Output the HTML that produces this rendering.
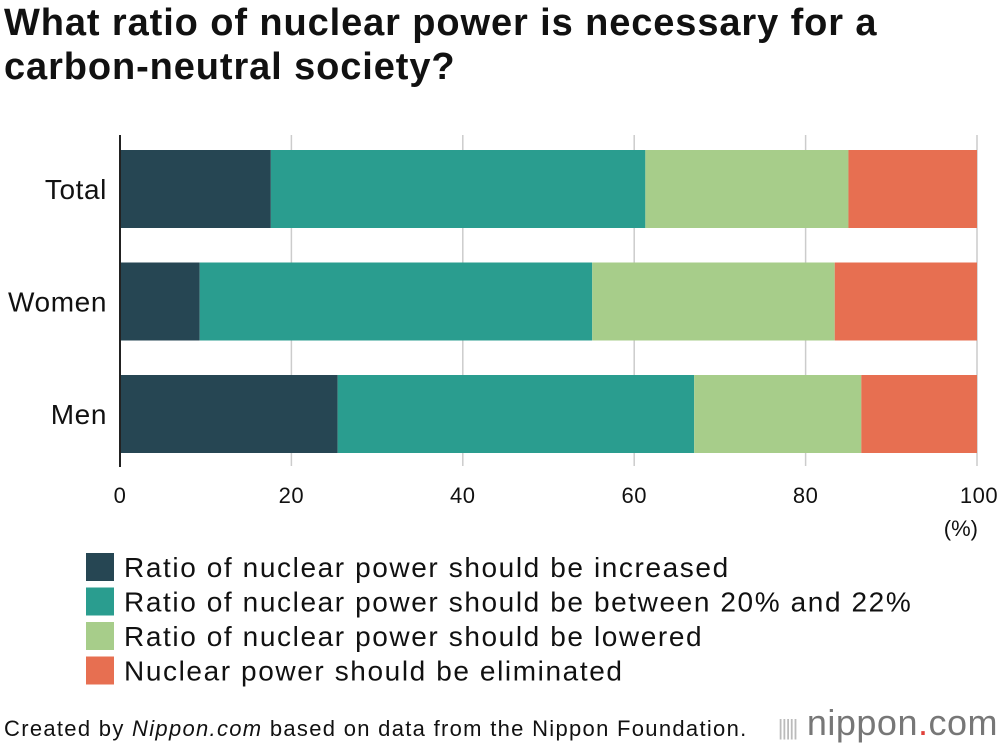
<!DOCTYPE html>
<html><head><meta charset="utf-8"><style>
body{margin:0;width:1000px;height:746px;background:#fff;font-family:"Liberation Sans",Arial,sans-serif;overflow:hidden;position:relative}
.t{position:absolute;left:4px;top:1px;font-size:38px;font-weight:bold;line-height:44px;color:#111;letter-spacing:0.9px}
svg{position:absolute;left:0;top:0}
.foot{position:absolute;left:4px;top:716px;font-size:22px;color:#111;letter-spacing:1.3px}
.logo{position:absolute;right:2px;top:702px;font-size:36px;color:#777;letter-spacing:0.5px}
</style></head><body>
<div class="t">What ratio of nuclear power is necessary for a<br>carbon-neutral society?</div>
<svg id="c" width="1000" height="746"></svg>
<div class="foot">Created by <i>Nippon.com</i> based on data from the Nippon Foundation.</div>
<div class="logo"><span style="font-size:22px;letter-spacing:-2px;color:#bbb">|||||</span> nippon<span style="color:#e0413a">.</span>com</div>
<script>
const categories=["Total","Women","Men"];
const seriesNames=["Ratio of nuclear power should be increased","Ratio of nuclear power should be between 20% and 22%","Ratio of nuclear power should be lowered","Nuclear power should be eliminated"];
const increased=[17.6,9.3,25.4];
const between=[43.7,45.8,41.6];
const lowered=[23.7,28.3,19.5];
const eliminated=[15.0,16.6,13.5];
const ticks=[0,20,40,60,80,100];
const colors=["#264653","#2a9d8f","#a7cd8a","#e76f51"];
const series=[increased,between,lowered,eliminated];
const NS="http://www.w3.org/2000/svg",svg=document.getElementById('c');
const x=v=>120+v*8.57, yTop=i=>150+i*112.5, bh=78;
function mk(t,a){const e=document.createElementNS(NS,t);for(const k in a)e.setAttribute(k,a[k]);svg.appendChild(e);return e;}
ticks.forEach(t=>{if(t>0){const g=mk('line',{x1:x(t),x2:x(t),y1:135,y2:466,stroke:'#ccc','stroke-width':1.5});

}
const l=mk('text',{x:x(t)+(t==100?2:0),y:503,'font-size':22,'text-anchor':'middle',fill:'#111','letter-spacing':'0.5'});l.textContent=t;

});
const pct=mk('text',{x:978,y:536,'font-size':22,'text-anchor':'end',fill:'#111'});pct.textContent='(%)';


categories.forEach((c,i)=>{let acc=0;series.forEach((s,j)=>{const r=mk('rect',{x:x(acc),y:yTop(i),width:x(acc+s[i])-x(acc),height:bh,fill:colors[j]});

acc+=s[i];});
const l=mk('text',{x:107,y:yTop(i)+bh/2+10,'font-size':28,'text-anchor':'end',fill:'#111','letter-spacing':'0.6'});l.textContent=c;

});
const ax=mk('line',{x1:120,x2:120,y1:135,y2:467,stroke:'#222','stroke-width':2});


seriesNames.forEach((n,j)=>{const y=553+j*34.5;const r=mk('rect',{x:86,y:y,width:28,height:28,fill:colors[j]});


const t=mk('text',{x:124,y:y+24,'font-size':28,fill:'#111','letter-spacing':'1.6'});t.textContent=n;

});
</script>
</body></html>
